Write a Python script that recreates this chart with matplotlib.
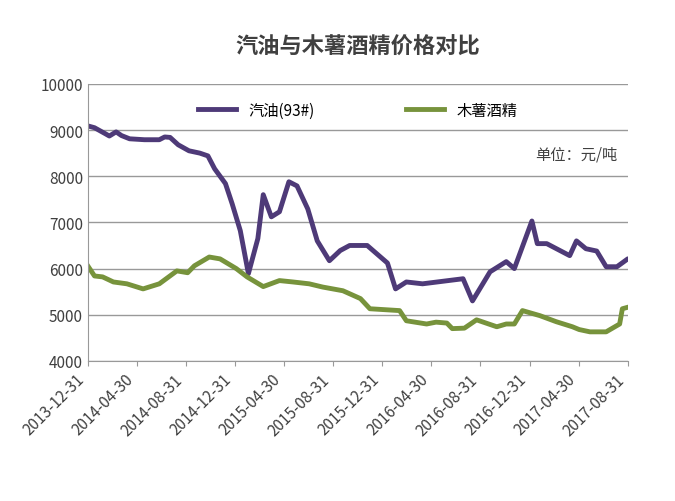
import matplotlib.pyplot as plt

plt.rcParams['font.family'] = ['Noto Sans CJK SC', 'DejaVu Sans']

# x in months since 2013-12-31
gas_x = [0, 0.5, 1.3, 1.6, 2.1, 2.5, 3.1, 4.2, 5.3, 5.7, 6.1, 6.7, 7.5, 8.3, 8.9, 9.4,
         10.2, 10.7, 11.3, 11.9, 12.6, 13.0, 13.6, 14.2, 14.9, 15.5, 16.3, 17.0, 17.9,
         18.7, 19.4, 20.7, 22.2, 22.8, 23.6, 24.8, 27.8, 28.5, 29.8, 31.0, 31.6, 32.9,
         33.3, 34.0, 35.7, 36.2, 36.9, 37.7, 38.4, 39.2, 40.0, 40.8]
gas_y = [9090, 9050, 8920, 8870, 8960, 8880, 8810, 8790, 8790, 8850, 8840, 8680, 8550,
         8500, 8440, 8160, 7840, 7400, 6820, 5890, 6650, 7600, 7120, 7230, 7880, 7790,
         7290, 6600, 6170, 6390, 6500, 6500, 6120, 5560, 5710, 5670, 5780, 5300, 5930,
         6150, 6000, 7030, 6540, 6540, 6280, 6600, 6430, 6380, 6040, 6040, 6210, 6170]

eth_x = [0, 0.5, 1.1, 1.9, 2.9, 4.1, 5.3, 6.6, 7.4, 7.9, 9.0, 9.8, 11.0, 11.8, 13.0,
         14.2, 15.2, 16.4, 17.4, 18.9, 20.2, 20.9, 23.1, 23.6, 25.1, 25.8, 26.6, 27.0,
         27.9, 28.8, 30.3, 31.0, 31.6, 32.2, 33.5, 34.7, 35.9, 36.4, 37.2, 38.4, 39.4,
         39.6, 40.1]
eth_y = [6060, 5840, 5820, 5710, 5670, 5560, 5670, 5950, 5910, 6060, 6250, 6210, 6000,
         5820, 5610, 5740, 5710, 5670, 5600, 5520, 5350, 5130, 5090, 4870, 4800, 4840,
         4820, 4700, 4710, 4890, 4740, 4800, 4800, 5090, 4980, 4850, 4740, 4680, 4630,
         4630, 4800, 5130, 5170]

tick_pos = list(range(0, 45, 4))
tick_labels = ['2013-12-31', '2014-04-30', '2014-08-31', '2014-12-31', '2015-04-30',
               '2015-08-31', '2015-12-31', '2016-04-30', '2016-08-31', '2016-12-31',
               '2017-04-30', '2017-08-31']

fig = plt.figure(figsize=(6.75, 5.02), dpi=100)
ax = fig.add_axes([0.13, 0.279, 0.80, 0.552])
ax.plot(gas_x, gas_y, color='#4e3a78', lw=3.5, label='汽油(93#)')
ax.plot(eth_x, eth_y, color='#77933c', lw=3.5, label='木薯酒精')
ax.set_xlim(0, 40)
ax.set_ylim(4000, 10000)
ax.set_yticks(range(4000, 10001, 1000))
ax.set_xticks([p * 10 / 11 for p in tick_pos])
ax.set_xticklabels(tick_labels, rotation=45, ha='right', fontsize=11, color='#404040')
ax.tick_params(axis='y', labelsize=11, labelcolor='#404040', length=0)
ax.tick_params(axis='x', direction='out', color='#999999')
ax.grid(axis='y', color='#999999', lw=1)
ax.set_axisbelow(True)
for s in ['top', 'right']:
    ax.spines[s].set_visible(False)
ax.spines['left'].set_color('#999999')
ax.spines['bottom'].set_color('#999999')
ax.legend(loc='upper center', ncol=2, frameon=False, fontsize=11, bbox_to_anchor=(0.5, 0.985),
          columnspacing=6, handlelength=2.5)
ax.text(0.98, 0.73, '单位：元/吨', transform=ax.transAxes, ha='right', fontsize=11, color='#404040')
fig.text(0.53, 0.905, '汽油与木薯酒精价格对比', ha='center', va='center', fontsize=16,
         fontweight='bold', color='#404040')
fig.savefig('out.png')
